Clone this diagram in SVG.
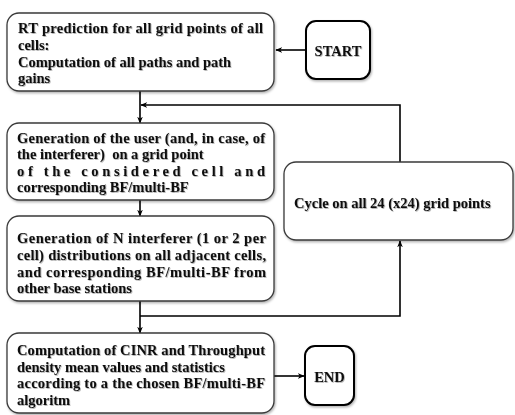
<svg xmlns="http://www.w3.org/2000/svg" width="515" height="415" viewBox="0 0 515 415">
<defs>
<style>
.box{fill:#fff;stroke:#3a3a3a;stroke-width:1.3}
.term{fill:#fff;stroke:#000;stroke-width:2}
.t{font-family:"Liberation Serif","Times New Roman",serif;font-weight:bold;font-size:14.5px;fill:#111}
.c{fill:none;stroke:#000;stroke-width:1.6}
</style>
<filter id="sh" x="-10%" y="-10%" width="120%" height="130%">
<feDropShadow dx="1" dy="1.5" stdDeviation="1" flood-color="#000" flood-opacity="0.3"/>
</filter>
<filter id="ts" x="-5%" y="-20%" width="110%" height="150%">
<feDropShadow dx="0.8" dy="0.8" stdDeviation="0.6" flood-color="#000" flood-opacity="0.35"/>
</filter>
<marker id="ah" viewBox="0 0 10 10" refX="9" refY="5" markerWidth="7" markerHeight="7" orient="auto" markerUnits="userSpaceOnUse">
<path d="M0,1 L10,5 L0,9 L3,5 Z" fill="#000"/>
</marker>
</defs>

<g id="connectors">
<path class="c" d="M306,50 H276" marker-end="url(#ah)"/>
<path class="c" d="M140,91 V123" marker-end="url(#ah)"/>
<path class="c" d="M400,162 V105 H141" marker-end="url(#ah)"/>
<path class="c" d="M140,200 V216" marker-end="url(#ah)"/>
<path class="c" d="M140,301 V333" marker-end="url(#ah)"/>
<path class="c" d="M140,316 H400 V241" marker-end="url(#ah)"/>
<path class="c" d="M274,376 H304" marker-end="url(#ah)"/>
</g>

<g id="rt">
<rect class="box" x="7" y="13" width="267" height="78" rx="12" filter="url(#sh)"/>
<g class="t" filter="url(#ts)">
<text x="18" y="33" textLength="245" lengthAdjust="spacing">RT prediction for all grid points of all</text>
<text x="18" y="50">cells:</text>
<text x="18" y="67">Computation of all paths and path</text>
<text x="18" y="83">gains</text>
</g>
</g>

<g id="start">
<rect class="term" x="306" y="21" width="64" height="58" rx="10" filter="url(#sh)"/>
<text class="t" x="338" y="56" text-anchor="middle" filter="url(#ts)">START</text>
</g>

<g id="user">
<rect class="box" x="7" y="123" width="267" height="77" rx="12" filter="url(#sh)"/>
<g class="t" filter="url(#ts)">
<text x="17" y="143" textLength="248" lengthAdjust="spacing">Generation of the user (and, in case, of</text>
<text x="17" y="159">the interferer)&#160; on a grid point</text>
<text x="17" y="176" textLength="248" lengthAdjust="spacing">of the considered cell and</text>
<text x="17" y="192">corresponding BF/multi-BF</text>
</g>
</g>

<g id="interf">
<rect class="box" x="7" y="216" width="267" height="85" rx="12" filter="url(#sh)"/>
<g class="t" filter="url(#ts)">
<text x="17" y="243" textLength="249" lengthAdjust="spacing">Generation of N interferer (1 or 2 per</text>
<text x="17" y="260" textLength="249" lengthAdjust="spacing">cell) distributions on all adjacent cells,</text>
<text x="17" y="277" textLength="249" lengthAdjust="spacing">and corresponding BF/multi-BF from</text>
<text x="17" y="293">other base stations</text>
</g>
</g>

<g id="cycle">
<rect class="box" x="284" y="162" width="229" height="78" rx="12" filter="url(#sh)"/>
<text class="t" x="294" y="208" filter="url(#ts)">Cycle on all 24 (x24) grid points</text>
</g>

<g id="cinr">
<rect class="box" x="7" y="333" width="267" height="80" rx="12" filter="url(#sh)"/>
<g class="t" filter="url(#ts)">
<text x="17" y="355" textLength="248" lengthAdjust="spacing">Computation of CINR and Throughput</text>
<text x="17" y="372">density mean values and statistics</text>
<text x="17" y="388" textLength="248" lengthAdjust="spacing">according to a the chosen BF/multi-BF</text>
<text x="17" y="405">algoritm</text>
</g>
</g>

<g id="end">
<rect class="term" x="305" y="346" width="49" height="59" rx="10" filter="url(#sh)"/>
<text class="t" x="329.5" y="382" text-anchor="middle" filter="url(#ts)">END</text>
</g>
</svg>
